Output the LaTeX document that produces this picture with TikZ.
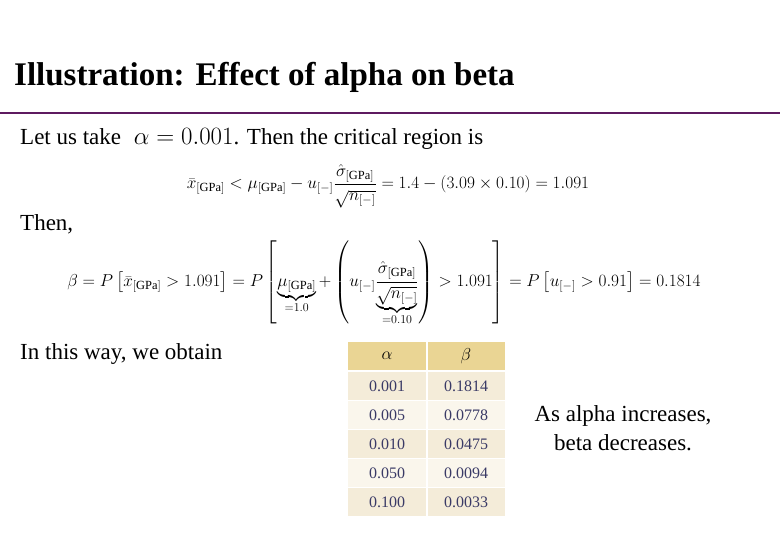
\documentclass[tikz,border=0pt]{standalone}
\usepackage{amsmath}
\usepackage{fontspec}
\setmainfont{Liberation Serif}
\definecolor{hdr}{HTML}{EAD594}
\definecolor{rowa}{HTML}{F4ECD9}
\definecolor{rowb}{HTML}{FAF6EC}
\definecolor{tx}{HTML}{3A3A66}
\definecolor{rule}{HTML}{5E1A60}
\begin{document}
\begin{tikzpicture}[x=1pt,y=-1pt,
  txt/.style={anchor=west,inner sep=0pt,font=\fontsize{23}{26}\selectfont},
  mth/.style={inner sep=0pt,font=\fontsize{17.8}{21}\selectfont},
  cell/.style={inner sep=0pt,font=\fontsize{16}{18}\selectfont,text=tx}]
\useasboundingbox (0,0) rectangle (780,540);
\node[anchor=west,inner sep=0pt,font=\fontsize{33}{36}\bfseries] (title) at (14,77) {Illustration: Effect of alpha on beta};
\draw[rule,line width=2.5pt] (0,113) -- (780,113);
\node[txt] (l1) at (20,139) {Let us take \hspace{0.3em}$\alpha=0.001$. Then the critical region is};
\node[mth] (f1) at (388,186) {$\bar{x}_{[\mathrm{GPa}]}<\mu_{[\mathrm{GPa}]}-u_{[-]}\dfrac{\hat\sigma_{[\mathrm{GPa}]}}{\sqrt{n_{[-]}}}=1.4-\left(3.09\times0.10\right)=1.091$};
\node[txt] (l2) at (20,224) {Then,};
\node[mth] (f2) at (384,283) {$\beta=P\left[\bar{x}_{[\mathrm{GPa}]}>1.091\right]=P\left[\underbrace{\mu_{[\mathrm{GPa}]}}_{=1.0}+\left(u_{[-]}\dfrac{\hat\sigma_{[\mathrm{GPa}]}}{\underbrace{\sqrt{n_{[-]}}}_{=0.10}}\right)>1.091\right]=P\left[u_{[-]}>0.91\right]=0.1814$};
\node[txt] (l3) at (20,354) {In this way, we obtain};
\fill[hdr] (348,342) rectangle (426,370);
\fill[hdr] (428,342) rectangle (505,370);
\foreach \i/\a/\b [count=\k] in {0/0.001/0.1814,1/0.005/0.0778,2/0.010/0.0475,3/0.050/0.0094,4/0.100/0.0033}{
  \pgfmathsetmacro{\yt}{372+29*\i}
  \pgfmathsetmacro{\yb}{\yt+27.5}
  \pgfmathtruncatemacro{\parity}{mod(\i,2)}
  \ifnum\parity=0 \def\rc{rowa}\else\def\rc{rowb}\fi
  \fill[\rc] (348,\yt) rectangle (426,\yb);
  \fill[\rc] (428,\yt) rectangle (505,\yb);
  \node[cell] (a\k) at (387,\yt+14) {\a};
  \node[cell] (b\k) at (466,\yt+14) {\b};
}
\node[cell,text=black] (ha) at (387,356) {$\alpha$};
\node[cell,text=black] (hb) at (466,356) {$\beta$};
\node[align=center,inner sep=0pt,font=\fontsize{23}{29}\selectfont] (note) at (623,428) {As alpha increases,\\beta decreases.};
\end{tikzpicture}
\end{document}
